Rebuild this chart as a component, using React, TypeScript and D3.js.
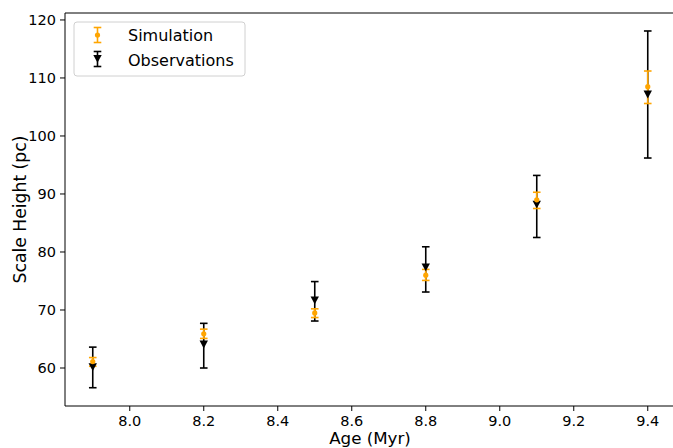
import React from "react";
import { scaleLinear } from "d3";

// ages (Myr, log) and scale heights (pc)
const ages = [7.9, 8.2, 8.5, 8.8, 9.1, 9.4];
const simValues = [61.1, 65.9, 69.5, 76.0, 89.0, 108.5];
const simLow = [60.3, 65.1, 68.7, 75.1, 87.5, 105.6];
const simHigh = [61.8, 66.7, 70.2, 77.0, 90.3, 111.2];
const obsValues = [60.2, 64.1, 71.7, 77.4, 88.2, 107.2];
const obsLow = [56.6, 60.0, 68.1, 73.1, 82.5, 96.2];
const obsHigh = [63.6, 67.7, 74.9, 80.9, 93.2, 118.1];
const xTicks = [8.0, 8.2, 8.4, 8.6, 8.8, 9.0, 9.2, 9.4];
const yTicks = [60, 70, 80, 90, 100, 110, 120];

const W = 673;
const H = 448;
const left = 65;
const top = 13;
const bottom = 406;
const font = "DejaVu Sans, sans-serif";
const ORANGE = "#ffa500";

const App = () => {
  const x = scaleLinear().domain([7.825, 9.475]).range([left, 675.5]);
  const y = scaleLinear().domain([53.45, 121.2]).range([bottom, top]);
  const cap = 3.8;

  const errBar = (cx: number, y0: number, y1: number, color: string, key: string) => (
    <g key={key} stroke={color} strokeWidth={1.6}>
      <line x1={cx} x2={cx} y1={y0} y2={y1} />
      <line x1={cx - cap} x2={cx + cap} y1={y0} y2={y0} />
      <line x1={cx - cap} x2={cx + cap} y1={y1} y2={y1} />
    </g>
  );
  const tri = (cx: number, cy: number, key: string) => (
    <path key={key} d={`M${cx - 4.2},${cy - 3.6}L${cx + 4.2},${cy - 3.6}L${cx},${cy + 4.2}Z`} fill="#000" />
  );

  return (
    <svg width={W} height={H} style={{ position: "absolute", left: 0, top: 0, background: "#fff" }}>
      {/* error bars: observations then simulation */}
      {ages.map((a, i) => errBar(x(a), y(obsHigh[i]), y(obsLow[i]), "#000", "ob" + i))}
      {ages.map((a, i) => errBar(x(a), y(simHigh[i]), y(simLow[i]), ORANGE, "sb" + i))}
      {ages.map((a, i) => tri(x(a), y(obsValues[i]), "ot" + i))}
      {ages.map((a, i) => (
        <circle key={"sd" + i} cx={x(a)} cy={y(simValues[i])} r={2.6} fill={ORANGE} />
      ))}

      {/* spines */}
      <g stroke="#000" strokeWidth={1} fill="none">
        <line x1={left} x2={W} y1={top} y2={top} />
        <line x1={left} x2={W} y1={bottom} y2={bottom} />
        <line x1={left} x2={left} y1={top} y2={bottom} />
      </g>

      {/* x axis */}
      {xTicks.map((t) => (
        <g key={"xt" + t}>
          <line x1={x(t)} x2={x(t)} y1={bottom} y2={bottom + 5} stroke="#000" />
          <text x={x(t)} y={426} textAnchor="middle" fontSize={14.5} fontFamily={font}>
            {t.toFixed(1)}
          </text>
        </g>
      ))}
      <text x={370} y={444} textAnchor="middle" fontSize={16.7} fontFamily={font}>
        Age (Myr)
      </text>

      {/* y axis */}
      {yTicks.map((t) => (
        <g key={"yt" + t}>
          <line x1={left - 5} x2={left} y1={y(t)} y2={y(t)} stroke="#000" />
          <text x={left - 9} y={y(t) + 5} textAnchor="end" fontSize={14.5} fontFamily={font}>
            {t}
          </text>
        </g>
      ))}
      <text
        transform={`translate(26,${(top + bottom) / 2}) rotate(-90)`}
        textAnchor="middle"
        fontSize={17.2}
        fontFamily={font}
      >
        Scale Height (pc)
      </text>

      {/* legend */}
      <rect x={74} y={22} width={171} height={54} rx={3} fill="#fff" fillOpacity={0.8} stroke="#d0d0d0" />
      {errBar(97.5, 27.5, 42.5, ORANGE, "lg1")}
      <circle cx={97.5} cy={35} r={2.6} fill={ORANGE} />
      <text x={128} y={41} fontSize={16} fontFamily={font}>Simulation</text>
      {errBar(97.5, 51.5, 66.5, "#000", "lg2")}
      {tri(97.5, 58.5, "lgt")}
      <text x={128} y={66} fontSize={16} fontFamily={font}>Observations</text>
    </svg>
  );
};

export default App;
